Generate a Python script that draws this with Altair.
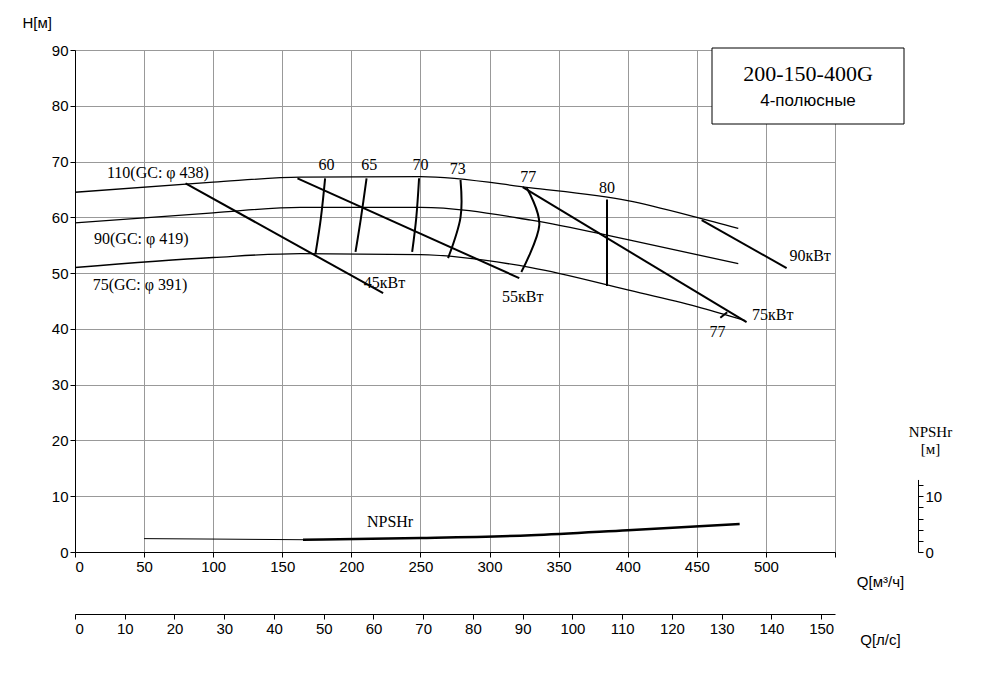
import altair as alt
import pandas as pd

# H-Q curves
hq_names = ["110", "90", "75"]
hq_q = [[0, 100, 163, 250, 330, 400, 450, 480],
        [0, 100, 163, 250, 330, 400, 480],
        [0, 100, 163, 250, 330, 400, 450, 485]]
hq_h = [[64.5, 66.3, 67.2, 67.3, 65.3, 63.0, 60.0, 58.0],
        [59.0, 60.8, 61.8, 61.8, 59.5, 56.0, 51.7],
        [51.0, 52.8, 53.5, 53.3, 51.0, 47.0, 44.0, 41.5]]
# power lines
pw_names = ["45", "55", "75", "90"]
pw_q = [[80, 223], [161, 321.5], [324, 486], [453.5, 515]]
pw_h = [[66.1, 46.4], [67.0, 49.1], [65.4, 41.2], [59.5, 50.9]]
# efficiency isolines
ef_names = ["60", "65", "70", "73", "77", "80", "77b"]
ef_q = [[174, 178, 181], [203, 207, 211], [244, 247, 249], [270, 279, 279],
        [323, 336, 327], [385, 385], [467, 472]]
ef_h = [[53.4, 60, 67.0], [53.8, 60, 67.0], [53.8, 60, 67.0], [52.7, 60, 66.7],
        [50.2, 58.6, 65.2], [47.7, 63.2], [42.0, 43.0]]
# NPSHr
np_q_thin = [50, 110, 165]
np_h_thin = [2.4, 2.3, 2.2]
np_q = [165, 250, 330, 400, 481]
np_h = [2.2, 2.5, 3.0, 3.9, 5.0]

lab_text = ["110(GC: φ 438)", "90(GC: φ 419)", "75(GC: φ 391)", "60", "65", "70", "73", "77", "80", "77",
            "45кВт", "55кВт", "75кВт", "90кВт", "NPSHr"]
lab_q = [60, 48, 47, 182, 213, 250, 277, 328, 385, 465, 224, 324, 505, 532, 228]
lab_h = [67.9, 56.2, 47.8, 69.3, 69.3, 69.3, 68.6, 67.3, 65.3, 39.5, 48.3, 45.8, 42.5, 53.0, 5.4]

def long(names, qs, hs):
    rows = []
    for n, q, h in zip(names, qs, hs):
        for i, (a, b) in enumerate(zip(q, h)):
            rows.append({"s": n, "q": a, "h": b, "o": i})
    return pd.DataFrame(rows)

W, H = 760, 502
xs = alt.Scale(domain=[0, 550], nice=False)
ys = alt.Scale(domain=[0, 90], nice=False)
X = alt.X("q:Q", scale=xs, axis=alt.Axis(values=list(range(0, 551, 50)), labelExpr="datum.value<=500?datum.label:''",
          title="Q[м³/ч]", titleX=W + 45, titleY=22, titleFontWeight="normal", titleFontSize=15,
          labelFontSize=15, grid=True, gridColor="#999", domainColor="black", tickColor="black",
          labelColor="black", labelFont="Liberation Sans", titleFont="Liberation Sans"))
Y = alt.Y("h:Q", scale=ys, axis=alt.Axis(values=list(range(0, 91, 10)), title="H[м]", titleAngle=0,
          titleAlign="left", titleBaseline="middle",
          titleX=-53, titleY=-28, titleFontWeight="normal", titleFontSize=15, labelFontSize=15,
          grid=True, gridColor="#999", domainColor="black", tickColor="black", labelColor="black",
          labelFont="Liberation Sans", titleFont="Liberation Sans"))

hq = alt.Chart(long(hq_names, hq_q, hq_h)).mark_line(color="black", strokeWidth=1.3, interpolate="monotone").encode(
    x=X, y=Y, detail="s:N", order="o:Q")
pw = alt.Chart(long(pw_names, pw_q, pw_h)).mark_line(color="black", strokeWidth=2).encode(
    x="q:Q", y="h:Q", detail="s:N", order="o:Q")
ef = alt.Chart(long(ef_names, ef_q, ef_h)).mark_line(color="black", strokeWidth=2, interpolate="cardinal").encode(
    x="q:Q", y="h:Q", detail="s:N", order="o:Q")
npt = alt.Chart(long(["t"], [np_q_thin], [np_h_thin])).mark_line(color="black", strokeWidth=1).encode(x="q:Q", y="h:Q")
npl = alt.Chart(long(["n"], [np_q], [np_h])).mark_line(color="black", strokeWidth=2.5, interpolate="monotone").encode(x="q:Q", y="h:Q")
labs = alt.Chart(pd.DataFrame({"q": lab_q, "h": lab_h, "t": lab_text})).mark_text(
    font="Liberation Serif", fontSize=16, color="black").encode(x="q:Q", y="h:Q", text="t:N")
box = alt.Chart(pd.DataFrame({"a": [0]})).mark_rect(fill="white", stroke="black", strokeWidth=1).encode(
    x=alt.value(637), x2=alt.value(829), y=alt.value(-2), y2=alt.value(74))
t1 = alt.Chart(pd.DataFrame({"a": [0]})).mark_text(font="Liberation Serif", fontSize=22, color="black").encode(
    x=alt.value(733), y=alt.value(24), text=alt.value("200-150-400G"))
t2 = alt.Chart(pd.DataFrame({"a": [0]})).mark_text(font="Liberation Sans", fontSize=17, color="black").encode(
    x=alt.value(733), y=alt.value(51), text=alt.value("4-полюсные"))

ls = alt.Chart(pd.DataFrame({"l": [0, 150]})).mark_point(opacity=0).encode(
    x=alt.X("l:Q", scale=alt.Scale(domain=[0, 550 / 3.6], nice=False),
            axis=alt.Axis(orient="bottom", offset=62, values=list(range(0, 151, 10)), title="Q[л/с]",
                          titleX=W + 45, titleY=18, titleFontWeight="normal", titleFontSize=15, labelFontSize=15,
                          grid=False, domainColor="black", tickColor="black", labelColor="black",
                          labelFont="Liberation Sans", titleFont="Liberation Sans")),
    y=alt.value(H))
rs = alt.Chart(pd.DataFrame({"n": [0, 10]})).mark_point(opacity=0).encode(
    y=alt.Y("n:Q", scale=alt.Scale(domain=[0, 13], range=[H, H - 13 * 5.58], nice=False),
            axis=alt.Axis(orient="right", offset=83, values=list(range(0, 13, 2)),
                          labelExpr="datum.value==0||datum.value==10?datum.label:''",
                          title=["NPSHr", "[м]"], titleAngle=0, titleX=12, titleY=H - 13 * 5.58 - 40,
                          titleFontWeight="normal",
                          titleFont="Liberation Serif", titleFontSize=15, labelFontSize=15, grid=False,
                          domainColor="black", tickColor="black", labelColor="black", labelFont="Liberation Sans")),
    x=alt.value(W))

main = alt.layer(hq, pw, ef, npt, npl, labs, box, t1, t2)
chart = alt.layer(main, ls, rs).resolve_scale(x="independent", y="independent").properties(
    width=W, height=H).configure_view(stroke="black", strokeWidth=1).configure(background="white", padding={"left": 14, "top": 7, "right": 5, "bottom": 5})
chart.save("out.html", embed_options={"renderer": "svg", "actions": False})
